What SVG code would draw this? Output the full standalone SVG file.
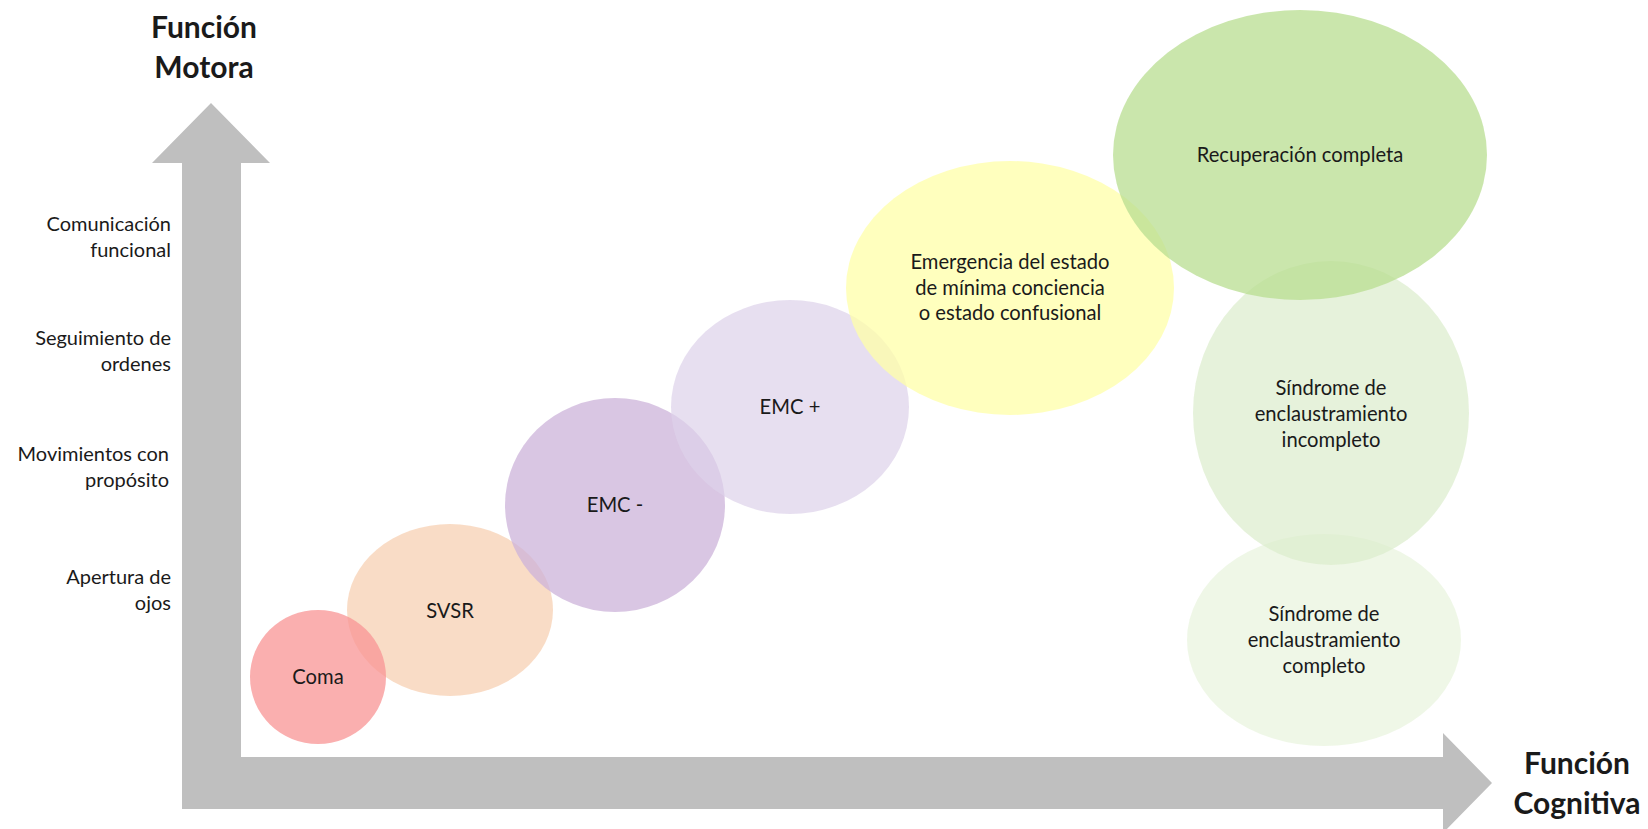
<svg xmlns="http://www.w3.org/2000/svg" width="1648" height="829" viewBox="0 0 1648 829">
<style>
text{font-family:Lato,"Open Sans","Liberation Sans",sans-serif;fill:#1a1a1a}
.ax{font-weight:bold;font-size:30px;text-anchor:middle}
.yl{font-size:20px;text-anchor:end}
.nl{font-size:20.2px;text-anchor:middle}
</style>
<rect width="1648" height="829" fill="#ffffff"/>
<g id="connectors">
<path d="M211,103 L270,163 L241,163 L241,757 L1443,757 L1443,733 L1492,783 L1443,833 L1443,809 L182,809 L182,163 L152,163 Z" fill="#bfbfbf"/>
</g>
<g id="axis-labels">
<text class="ax" x="204" y="38">Función</text>
<text class="ax" x="204" y="78">Motora</text>
<text class="ax" x="1577" y="774">Función</text>
<text class="ax" x="1577" y="814">Cognitiva</text>
<text class="yl" x="171" y="231">Comunicación</text>
<text class="yl" x="171" y="257">funcional</text>
<text class="yl" x="171" y="345">Seguimiento de</text>
<text class="yl" x="171" y="371">ordenes</text>
<text class="yl" x="169" y="461">Movimientos con</text>
<text class="yl" x="169" y="487">propósito</text>
<text class="yl" x="171" y="584">Apertura de</text>
<text class="yl" x="171" y="610">ojos</text>
</g>
<g id="svsr"><ellipse cx="450" cy="610" rx="103" ry="86" fill="#f7d3b8" fill-opacity="0.8"/><text class="nl" x="450" y="618">SVSR</text></g>
<g id="coma"><ellipse cx="318" cy="677" rx="68" ry="67" fill="#f89494" fill-opacity="0.75"/><text class="nl" x="318" y="684">Coma</text></g>
<g id="emc-minus"><ellipse cx="615" cy="505" rx="110" ry="107" fill="#ccb3d9" fill-opacity="0.75"/><text class="nl" x="615" y="512">EMC -</text></g>
<g id="emc-plus"><ellipse cx="790" cy="407" rx="119" ry="107" fill="#ddd1ea" fill-opacity="0.7"/><text class="nl" x="790" y="414">EMC +</text></g>
<g id="emergencia"><ellipse cx="1010" cy="288" rx="164" ry="127" fill="#ffffa8" fill-opacity="0.75"/><text class="nl" x="1010" y="269">Emergencia del estado</text><text class="nl" x="1010" y="295">de mínima conciencia</text><text class="nl" x="1010" y="320">o estado confusional</text></g>
<g id="sindrome-completo"><ellipse cx="1324" cy="640" rx="137" ry="106" fill="#e9f4df" fill-opacity="0.75"/><text class="nl" x="1324" y="621">Síndrome de</text><text class="nl" x="1324" y="647">enclaustramiento</text><text class="nl" x="1324" y="673">completo</text></g>
<g id="sindrome-incompleto"><ellipse cx="1331" cy="413" rx="138" ry="152" fill="#dcedcc" fill-opacity="0.7"/><text class="nl" x="1331" y="395">Síndrome de</text><text class="nl" x="1331" y="421">enclaustramiento</text><text class="nl" x="1331" y="447">incompleto</text></g>
<g id="recuperacion"><ellipse cx="1300" cy="155" rx="187" ry="145" fill="#b8dd90" fill-opacity="0.75"/><text class="nl" x="1300" y="162">Recuperación completa</text></g>
</svg>
